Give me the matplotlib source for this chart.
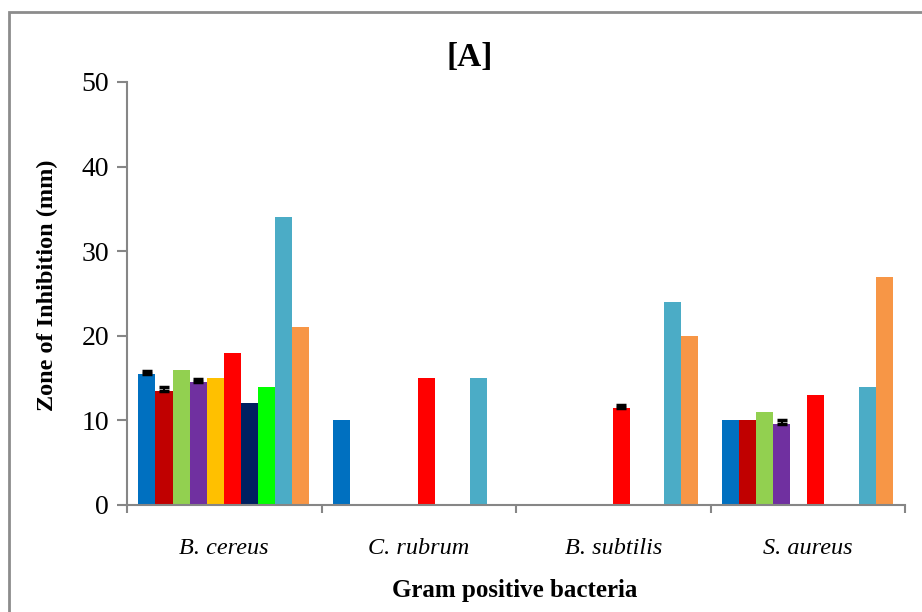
import numpy as np
import matplotlib.pyplot as plt
from matplotlib.patches import Rectangle

bacteria = ['B. cereus', 'C. rubrum', 'B. subtilis', 'S. aureus']
colors = ['#0070C0', '#C00000', '#92D050', '#7030A0', '#FFC000',
          '#FF0000', '#002060', '#00FF00', '#4BACC6', '#F79646']

# zone of inhibition (mm), one list per treatment, in the order of bacteria
s1 = [15.5, 10, 0, 10]
s2 = [13.5, 0, 0, 10]
s3 = [16, 0, 0, 11]
s4 = [14.5, 0, 0, 9.6]
s5 = [15, 0, 0, 0]
s6 = [18, 15, 11.5, 13]
s7 = [12, 0, 0, 0]
s8 = [14, 0, 0, 0]
s9 = [34, 15, 24, 14]
s10 = [21, 0, 20, 27]
series = [s1, s2, s3, s4, s5, s6, s7, s8, s9, s10]

# standard errors (upper bars only)
e1 = [0.3, 0, 0, 0]
e2 = [0.4, 0, 0, 0]
e4 = [0.35, 0, 0, 0.4]
e6 = [0, 0, 0.3, 0]
errors = {0: e1, 1: e2, 3: e4, 5: e6}

plt.rcParams['font.family'] = ['Liberation Serif', 'DejaVu Serif']

fig = plt.figure(figsize=(9.22, 6.12), dpi=100)
ax = fig.add_axes([127 / 922, 1 - 505 / 612, 778 / 922, 423 / 612])

# chart area border
fig.patches.append(Rectangle((9 / 922, -0.05), 1.0, 1 - 12 / 612 + 0.05,
                             transform=fig.transFigure, fill=False,
                             edgecolor='#8c8c8c', linewidth=2))

x = np.arange(len(bacteria))
width = 0.088
for i, vals in enumerate(series):
    pos = x - 0.5 + 0.058 + width * (i + 0.5)
    ax.bar(pos, vals, width, color=colors[i], zorder=2)
    if i in errors:
        err = np.array(errors[i])
        m = err > 0
        ax.errorbar(pos[m], np.array(vals)[m], yerr=[np.zeros(m.sum()), err[m]],
                    fmt='none', ecolor='black', elinewidth=1.5, capsize=3.5,
                    capthick=2.5, zorder=3)

ax.set_xlim(-0.5, 3.5)
ax.set_ylim(0, 50)
ax.set_yticks(range(0, 51, 10))
ax.set_xticks(x)
ax.set_xticklabels(bacteria, fontstyle='italic', fontsize=17.5)
ax.set_xticks(np.arange(-0.5, 4, 1), minor=True)
ax.tick_params(axis='x', which='major', length=0, pad=24)
ax.tick_params(axis='x', which='minor', length=6, color='#868686', width=1.5)
ax.tick_params(axis='y', length=7, color='#868686', width=1.5, labelsize=20, pad=6)

for side in ['top', 'right']:
    ax.spines[side].set_visible(False)
for side in ['left', 'bottom']:
    ax.spines[side].set_color('#868686')
    ax.spines[side].set_linewidth(1.5)

fig.text(47 / 922, 1 - 285 / 612, 'Zone of Inhibition (mm)', fontweight='bold',
         fontsize=17.5, rotation=90, ha='center', va='center')
fig.text(515 / 922, 1 - 590 / 612, 'Gram positive bacteria', fontweight='bold',
         fontsize=18, ha='center', va='center')
fig.text(470 / 922, 1 - 58 / 612, '[A]', fontweight='bold', fontsize=24,
         ha='center', va='center')

fig.savefig('out.png', dpi=100)
